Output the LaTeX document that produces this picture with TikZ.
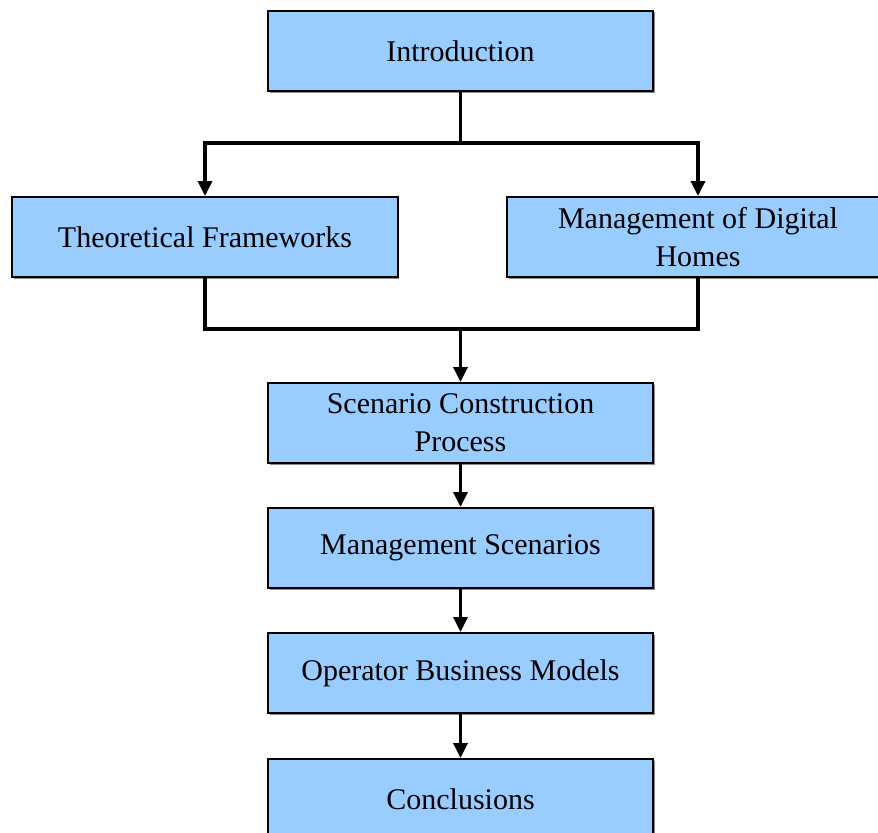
\documentclass[tikz,border=0pt]{standalone}
\usepackage{fontspec}
\setmainfont{Liberation Serif}
\usetikzlibrary{arrows.meta,shadows}
\definecolor{boxblue}{HTML}{99CCFF}
\tikzset{
  stagebox/.style={draw=black, line width=2bp, fill=boxblue,
    minimum width=385bp, minimum height=80bp, inner sep=0pt,
    align=center, font=\fontsize{30bp}{38bp}\selectfont,
    drop shadow={shadow xshift=1.5bp, shadow yshift=-1.5bp, fill=black!45, opacity=1}},
  link/.style={draw=black, line width=3.4bp},
  flow/.style={link, -{Triangle[width=14bp,length=15bp]}}
}
\begin{document}
\begin{tikzpicture}[x=1bp, y=-1bp]
  \useasboundingbox (0,0) rectangle (878,833);
  \clip (0,0) rectangle (878,833);
  % stages
  \node[stagebox] (intro) at (460.5,51) {Introduction};
  \node[stagebox] (theory) at (205,237) {Theoretical Frameworks};
  \node[stagebox, minimum width=382bp] (homes) at (698,237) {Management of Digital\\Homes};
  \node[stagebox] (process) at (460.5,423) {Scenario Construction\\Process};
  \node[stagebox] (scen) at (460.5,548) {Management Scenarios};
  \node[stagebox] (oper) at (460.5,673) {Operator Business Models};
  \node[stagebox] (concl) at (460.5,799) {Conclusions};
  % split below the introduction
  \coordinate (split) at (460.5,143);
  \coordinate (join) at (460.5,329);
  \draw[link] (intro.south) -- (split);
  \draw[flow] (split) -| (theory.north);
  \draw[flow] (split) -| (homes.north);
  % merge into the construction process
  \draw[link] (theory.south) |- (join);
  \draw[link] (homes.south) |- (join);
  \draw[flow] (join) -- (process.north);
  % remaining sequence
  \draw[flow] (process) -- (scen);
  \draw[flow] (scen) -- (oper);
  \draw[flow] (oper) -- (concl);
\end{tikzpicture}
\end{document}
